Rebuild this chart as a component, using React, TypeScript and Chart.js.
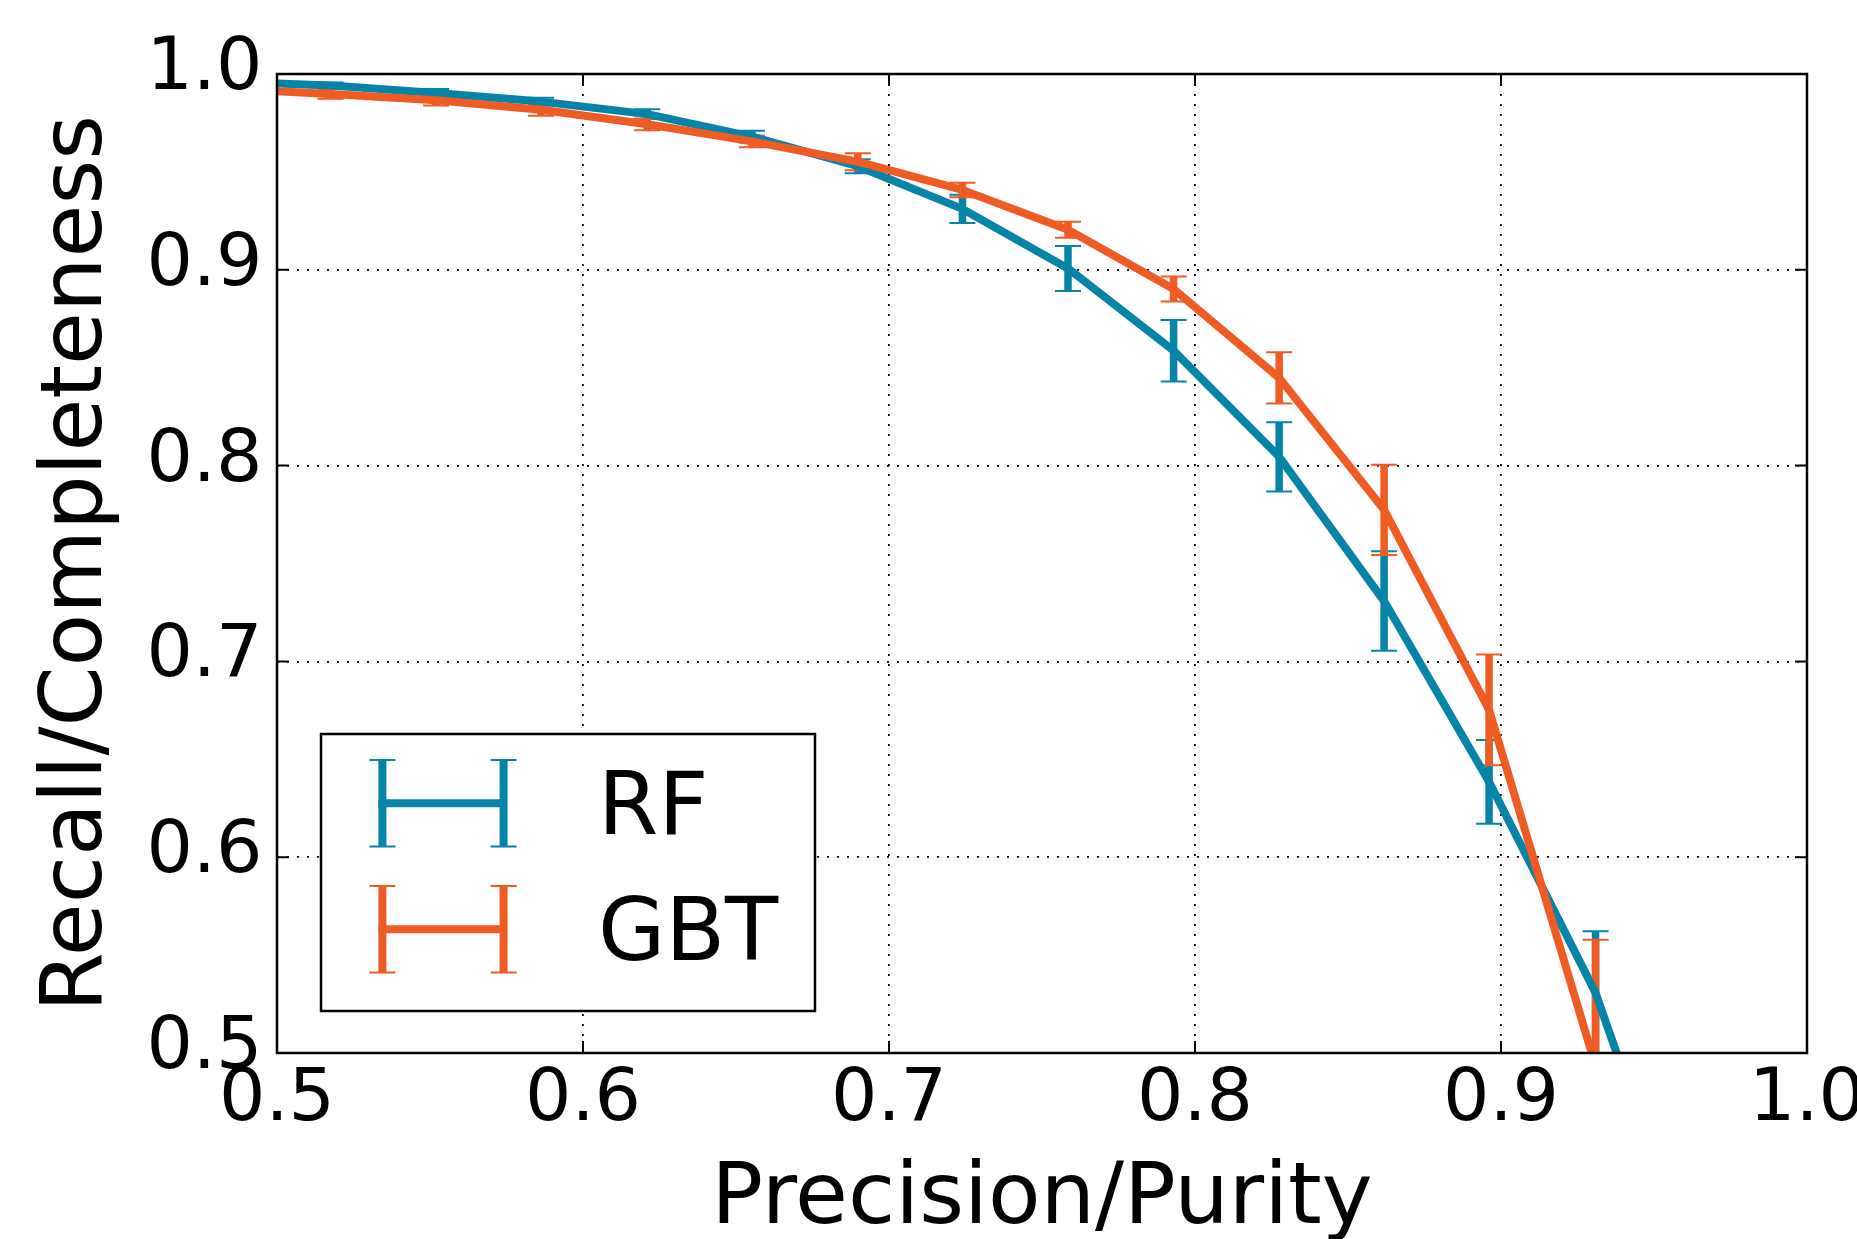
import React, { useEffect, useRef } from "react";
import { Chart, registerables } from "chart.js";

Chart.register(...registerables);

// ---- data ----
const precision = [0.4832, 0.5175, 0.552, 0.5863, 0.621, 0.6552, 0.6898, 0.724, 0.7585, 0.793, 0.8275, 0.8618, 0.8961, 0.9309, 0.9652];
const rfRecall = [0.9962, 0.9941, 0.9903, 0.9859, 0.9795, 0.968, 0.9529, 0.9311, 0.9007, 0.8587, 0.8045, 0.7308, 0.6385, 0.5307, 0.378];
const rfErr = [0.0015, 0.0015, 0.002, 0.002, 0.0025, 0.003, 0.0036, 0.0072, 0.0115, 0.0157, 0.0177, 0.0254, 0.0214, 0.0315, 0.04];
const gbtRecall = [0.9925, 0.9898, 0.9866, 0.9817, 0.9743, 0.9656, 0.9552, 0.9408, 0.9205, 0.8902, 0.8448, 0.7774, 0.6752, 0.4934, 0.3];
const gbtErr = [0.002, 0.0025, 0.0027, 0.003, 0.003, 0.003, 0.0043, 0.0037, 0.0041, 0.0064, 0.0131, 0.023, 0.0283, 0.0645, 0.07];
const seriesNames = ["RF", "GBT"];
const xTicks = [0.5, 0.6, 0.7, 0.8, 0.9, 1.0];
const yTicks = [0.5, 0.6, 0.7, 0.8, 0.9, 1.0];
const xTitle = "Precision/Purity";
const yTitle = "Recall/Completeness";

const RF_COLOR = "#0584a8";
const GBT_COLOR = "#ee5c24";
const FONT = "'DejaVu Sans', 'Bitstream Vera Sans', sans-serif";

const W = 1857;
const H = 1239;

const errorBarPlugin = {
  id: "errorBars",
  beforeDatasetsDraw(chart: any) {
    const { ctx, chartArea, scales } = chart;
    const xs = scales.x;
    const ys = scales.y;
    ctx.save();
    ctx.beginPath();
    ctx.rect(chartArea.left, chartArea.top, chartArea.right - chartArea.left, chartArea.bottom - chartArea.top);
    ctx.clip();
    chart.data.datasets.forEach((ds: any) => {
      const errs: number[] = ds.errors || [];
      ds.data.forEach((p: any, i: number) => {
        const e = errs[i];
        if (e == null) return;
        const px = xs.getPixelForValue(p.x);
        const yTop = ys.getPixelForValue(p.y + e);
        const yBot = ys.getPixelForValue(p.y - e);
        ctx.strokeStyle = ds.borderColor;
        ctx.lineCap = "butt";
        ctx.lineWidth = 7.5;
        ctx.beginPath();
        ctx.moveTo(px, yTop);
        ctx.lineTo(px, yBot);
        ctx.stroke();
        ctx.lineWidth = 2;
        ctx.beginPath();
        ctx.moveTo(px - 13, yTop);
        ctx.lineTo(px + 13, yTop);
        ctx.moveTo(px - 13, yBot);
        ctx.lineTo(px + 13, yBot);
        ctx.stroke();
      });
    });
    ctx.restore();
  },
};

const framePlugin = {
  id: "frame",
  afterDatasetsDraw(chart: any) {
    const { ctx, chartArea, scales } = chart;
    const { left, right, top, bottom } = chartArea;
    ctx.save();
    ctx.strokeStyle = "#000";
    ctx.lineWidth = 2;
    const tl = 12;
    ctx.beginPath();
    xTicks.forEach((v) => {
      const px = scales.x.getPixelForValue(v);
      ctx.moveTo(px, bottom);
      ctx.lineTo(px, bottom - tl);
      ctx.moveTo(px, top);
      ctx.lineTo(px, top + tl);
    });
    yTicks.forEach((v) => {
      const py = scales.y.getPixelForValue(v);
      ctx.moveTo(left, py);
      ctx.lineTo(left + tl, py);
      ctx.moveTo(right, py);
      ctx.lineTo(right - tl, py);
    });
    ctx.stroke();
    ctx.lineWidth = 2.5;
    ctx.strokeRect(left, top, right - left, bottom - top);
    ctx.restore();
  },
};

const legendPlugin = {
  id: "ebLegend",
  afterDraw(chart: any) {
    const { ctx } = chart;
    ctx.save();
    const bx = 321, by = 734, bw = 494, bh = 277;
    ctx.fillStyle = "#fff";
    ctx.fillRect(bx, by, bw, bh);
    ctx.strokeStyle = "#000";
    ctx.lineWidth = 2.5;
    ctx.strokeRect(bx, by, bw, bh);
    const rows = [
      { y: 803.3, half: 43.3, baseline: 834 },
      { y: 929.3, half: 43.3, baseline: 960 },
    ];
    chart.data.datasets.forEach((ds: any, i: number) => {
      const r = rows[i];
      const x1 = 382.4, x2 = 503.6;
      ctx.strokeStyle = ds.borderColor;
      ctx.lineCap = "butt";
      ctx.lineWidth = 8;
      ctx.beginPath();
      ctx.moveTo(x1 - 4, r.y);
      ctx.lineTo(x2, r.y);
      ctx.stroke();
      ctx.beginPath();
      ctx.moveTo(x1, r.y - r.half);
      ctx.lineTo(x1, r.y + r.half);
      ctx.moveTo(x2, r.y - r.half);
      ctx.lineTo(x2, r.y + r.half);
      ctx.stroke();
      ctx.lineWidth = 2;
      ctx.beginPath();
      [x1, x2].forEach((x) => {
        ctx.moveTo(x - 13, r.y - r.half);
        ctx.lineTo(x + 13, r.y - r.half);
        ctx.moveTo(x - 13, r.y + r.half);
        ctx.lineTo(x + 13, r.y + r.half);
      });
      ctx.stroke();
      ctx.fillStyle = "#000";
      ctx.font = `87px ${FONT}`;
      ctx.textAlign = "left";
      ctx.textBaseline = "alphabetic";
      ctx.fillText(ds.label, 598, r.baseline);
    });
    ctx.restore();
  },
};

export default function App() {
  const ref = useRef<HTMLCanvasElement | null>(null);

  useEffect(() => {
    if (!ref.current) return;
    const chart = new Chart(ref.current, {
      type: "line",
      data: {
        datasets: [
          {
            label: seriesNames[0],
            data: precision.map((x, i) => ({ x, y: rfRecall[i] })),
            errors: rfErr,
            borderColor: RF_COLOR,
            backgroundColor: RF_COLOR,
            borderWidth: 8,
            pointRadius: 0,
            borderJoinStyle: "round",
            tension: 0,
            clip: 0,
            order: 1,
          } as any,
          {
            label: seriesNames[1],
            data: precision.map((x, i) => ({ x, y: gbtRecall[i] })),
            errors: gbtErr,
            borderColor: GBT_COLOR,
            backgroundColor: GBT_COLOR,
            borderWidth: 8,
            pointRadius: 0,
            borderJoinStyle: "round",
            tension: 0,
            clip: 0,
            order: 0,
          } as any,
        ],
      },
      options: {
        animation: false,
        responsive: false,
        maintainAspectRatio: false,
        devicePixelRatio: 1,
        layout: { padding: { left: 0, top: 74, right: 50, bottom: 0 } },
        plugins: {
          legend: { display: false },
          tooltip: { enabled: false },
          title: { display: false },
        },
        scales: {
          x: {
            type: "linear",
            min: 0.5,
            max: 1.0,
            afterBuildTicks: (s: any) => {
              s.ticks = xTicks.map((v) => ({ value: v }));
            },
            afterFit: (s: any) => {
              s.height = 186;
              s.paddingLeft = 0;
              s.paddingRight = 0;
            },
            ticks: {
              autoSkip: false,
              maxRotation: 0,
              minRotation: 0,
              padding: 4.5,
              color: "#000",
              font: { family: FONT, size: 73 },
              callback: (v: any) => Number(v).toFixed(1),
            },
            grid: { color: "#000", lineWidth: 1.8, drawTicks: false },
            border: { display: false, dash: [2, 8] },
            title: {
              display: true,
              text: xTitle,
              color: "#000",
              font: { family: FONT, size: 86, lineHeight: 0.9 },
              padding: { top: 0, bottom: 0 },
            },
          },
          y: {
            type: "linear",
            min: 0.5,
            max: 1.0,
            afterBuildTicks: (s: any) => {
              s.ticks = yTicks.map((v) => ({ value: v }));
            },
            afterFit: (s: any) => {
              s.width = 277;
              s.paddingTop = 0;
              s.paddingBottom = 0;
            },
            ticks: {
              autoSkip: false,
              padding: 14.5,
              labelOffset: -4,
              color: "#000",
              font: { family: FONT, size: 73 },
              callback: (v: any) => Number(v).toFixed(1),
            },
            grid: { color: "#000", lineWidth: 1.8, drawTicks: false },
            border: { display: false, dash: [2, 8] },
            title: {
              display: true,
              text: yTitle,
              color: "#000",
              font: { family: FONT, size: 86, lineHeight: 1.2 },
              padding: { top: 26.6, bottom: 0 },
            },
          },
        },
      } as any,
      plugins: [errorBarPlugin, framePlugin, legendPlugin],
    });
    return () => chart.destroy();
  }, []);

  return (
    <div style={{ position: "fixed", left: 0, top: 0, width: W, height: H, background: "#fff" }}>
      <canvas ref={ref} width={W} height={H} style={{ display: "block", width: W, height: H }} />
    </div>
  );
}
